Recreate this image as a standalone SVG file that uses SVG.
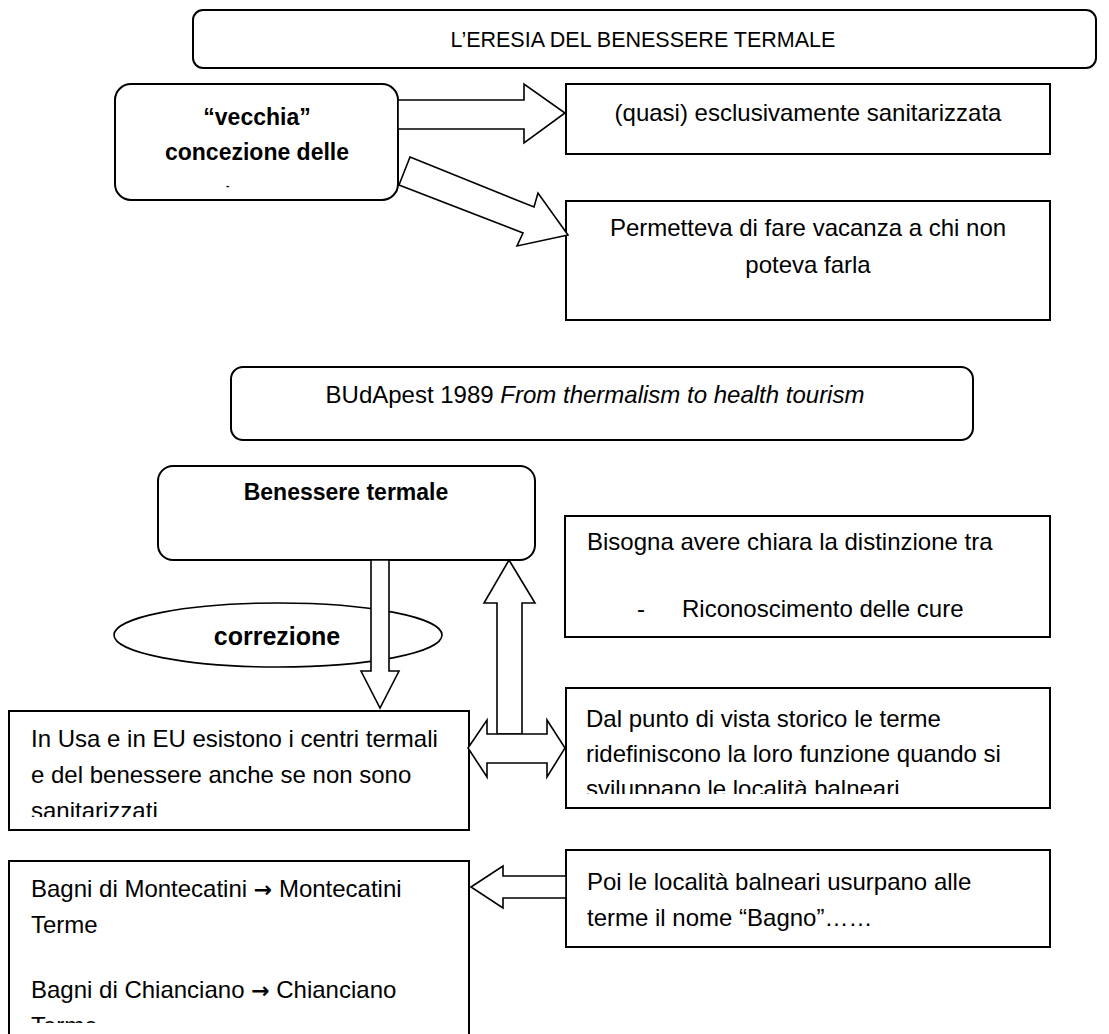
<svg xmlns="http://www.w3.org/2000/svg" width="1109" height="1034" viewBox="0 0 1109 1034">
<style>
.box{fill:#fff;stroke:#000;stroke-width:2}
.ar{fill:#fff;stroke:#000;stroke-width:1.6;stroke-linejoin:miter}
.t{font-family:"Liberation Sans",Arial,sans-serif;font-size:24px;fill:#000}
.b{font-weight:bold;font-size:23px}
.c{text-anchor:middle}
.arw{font-family:"DejaVu Sans",sans-serif;font-weight:bold;font-size:22px}
</style>
<defs>
<clipPath id="clipUsa"><rect x="0" y="700" width="480" height="117"/></clipPath>
<clipPath id="clipDal"><rect x="560" y="680" width="500" height="114"/></clipPath>
<clipPath id="clipBagni"><rect x="0" y="860" width="480" height="163"/></clipPath>
</defs>
<rect width="1109" height="1034" fill="#fff"/>

<g id="title">
<rect class="box" x="193" y="10" width="903" height="58" rx="10"/>
<text class="t c" x="643" y="47" style="font-size:21.5px">L’ERESIA DEL BENESSERE TERMALE</text>
</g>

<g id="vecchia">
<rect class="box" x="115" y="84" width="283" height="116" rx="16"/>
<text class="t b c" x="257" y="125">“vecchia”</text>
<text class="t b c" x="257" y="160">concezione delle</text>
<text class="t b" x="226" y="189" style="font-size:10px">-</text>
</g>

<g id="quasi">
<rect class="box" x="566" y="84" width="484" height="70"/>
<text class="t c" x="808" y="121">(quasi) esclusivamente sanitarizzata</text>
</g>

<g id="permetteva">
<rect class="box" x="566" y="201" width="484" height="119"/>
<text class="t c" x="808" y="236">Permetteva di fare vacanza a chi non</text>
<text class="t c" x="808" y="273">poteva farla</text>
</g>

<g id="budapest">
<rect class="box" x="231" y="367" width="742" height="73" rx="12"/>
<text class="t c" x="595" y="403">BUdApest 1989 <tspan font-style="italic">From thermalism to health tourism</tspan></text>
</g>

<g id="benessere">
<rect class="box" x="158" y="466" width="377" height="94" rx="15"/>
<text class="t b c" x="346" y="500">Benessere termale</text>
</g>

<g id="correzione">
<ellipse class="box" cx="278" cy="635" rx="164" ry="32" style="stroke-width:1.6"/>
<text class="t b c" x="277" y="645" style="font-size:25px">correzione</text>
</g>

<g id="bisogna">
<rect class="box" x="565" y="516" width="485" height="121"/>
<text class="t" x="587" y="550">Bisogna avere chiara la distinzione tra</text>
<text class="t" x="637" y="617">-</text>
<text class="t" x="682" y="617">Riconoscimento delle cure</text>
</g>

<g id="usa">
<rect class="box" x="9" y="711" width="460" height="119"/>
<g clip-path="url(#clipUsa)">
<text class="t" x="31" y="747">In Usa e in EU esistono i centri termali</text>
<text class="t" x="31" y="783">e del benessere anche se non sono</text>
<text class="t" x="31" y="819">sanitarizzati</text>
</g>
</g>

<g id="dal">
<rect class="box" x="566" y="688" width="484" height="120"/>
<g clip-path="url(#clipDal)">
<text class="t" x="586" y="727">Dal punto di vista storico le terme</text>
<text class="t" x="586" y="762">ridefiniscono la loro funzione quando si</text>
<text class="t" x="586" y="797">sviluppano le località balneari</text>
</g>
</g>

<g id="bagni">
<rect class="box" x="9" y="861" width="460" height="185"/>
<g clip-path="url(#clipBagni)">
<text class="t" x="31" y="897">Bagni di Montecatini <tspan class="arw">→</tspan> Montecatini</text>
<text class="t" x="31" y="933">Terme</text>
<text class="t" x="31" y="998">Bagni di Chianciano <tspan class="arw">→</tspan> Chianciano</text>
<text class="t" x="31" y="1034">Terme</text>
</g>
</g>

<g id="poi">
<rect class="box" x="566" y="850" width="484" height="97"/>
<text class="t" x="587" y="890">Poi le località balneari usurpano alle</text>
<text class="t" x="587" y="926">terme il nome “Bagno”……</text>
</g>

<g id="connectors">
<polygon class="ar" points="398,100 524,100 524,84 565,113 524,143 524,129 398,129"/>
<polygon class="ar" points="410,157 534,207 538,193 568,235 517,246 523,233 399,185"/>
<polygon class="ar" points="371,560 389,560 389,671 399,671 380,708 361,671 371,671"/>
<polygon class="ar" points="509,560 535,603 522,603 522,734 497,734 497,603 484,603"/>
<polygon class="ar" points="468,748 487,720 487,734 547,734 547,720 565,748 547,777 547,763 487,763 487,777"/>
<polygon class="ar" points="471,887 503,866 503,876 566,876 566,898 503,898 503,908"/>
</g>
</svg>
